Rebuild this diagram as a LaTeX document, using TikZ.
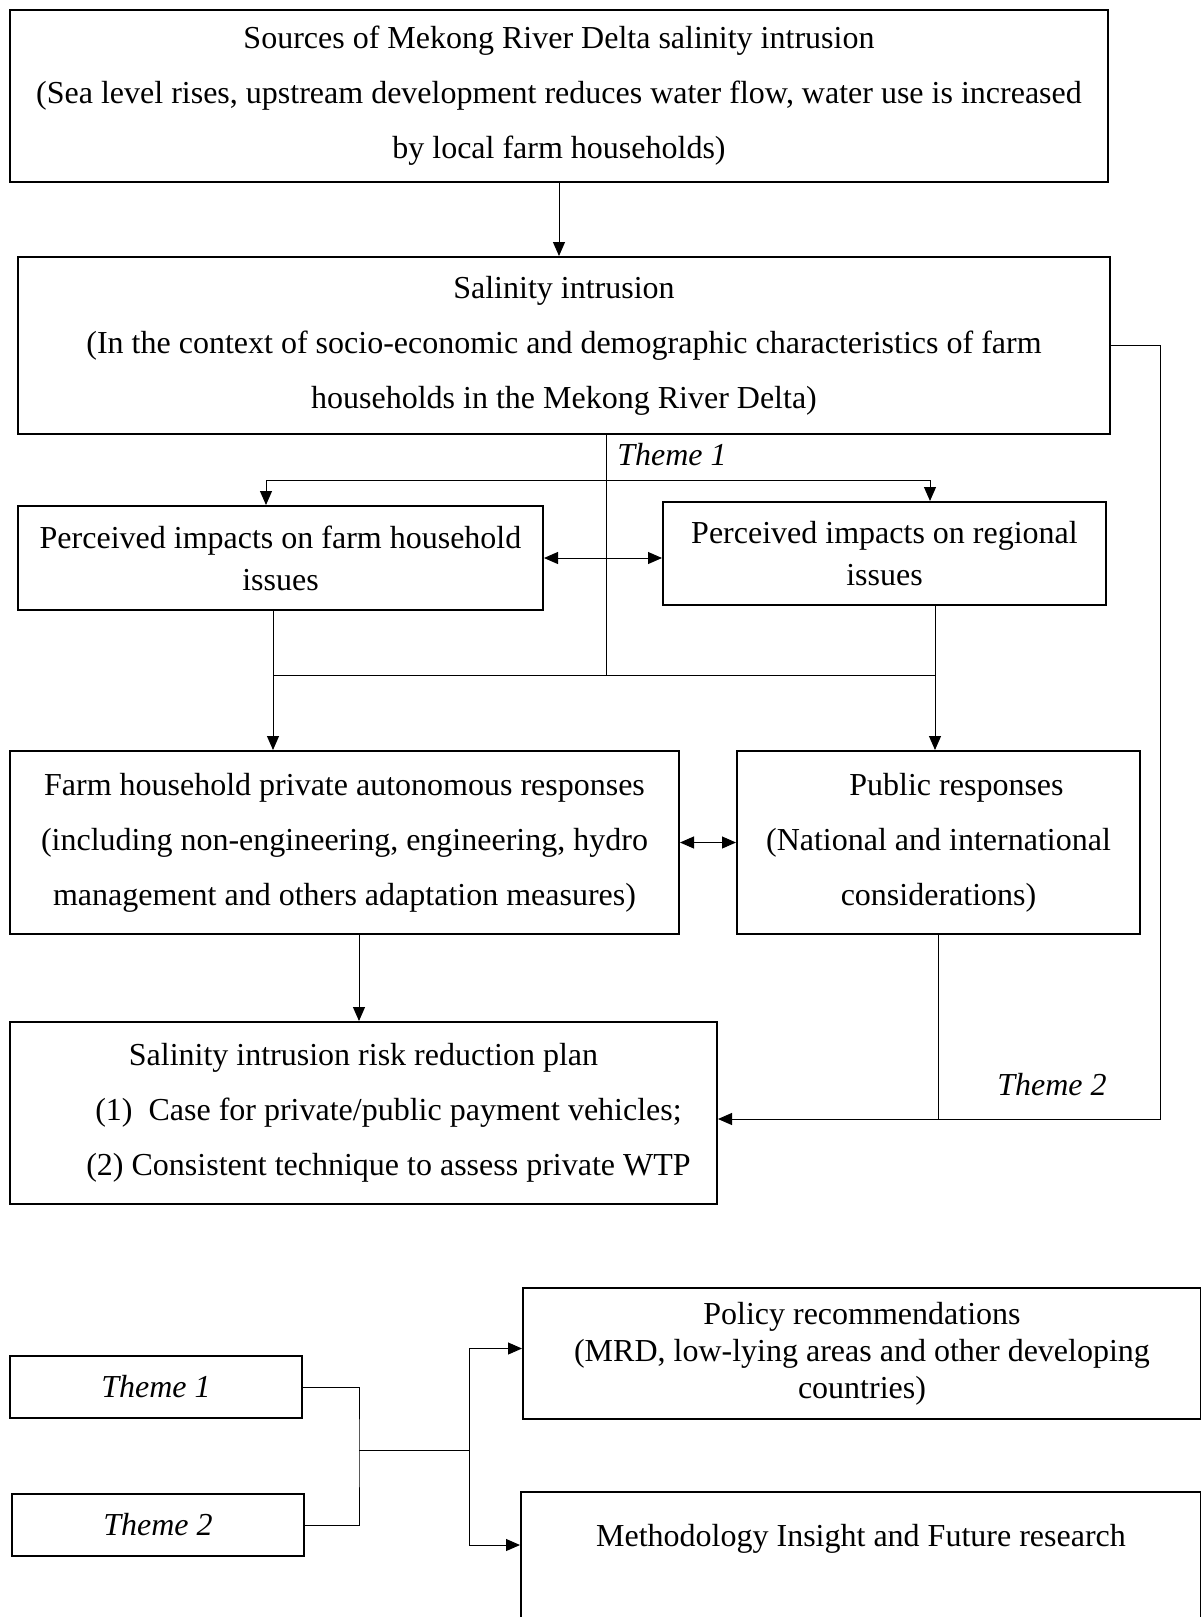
\documentclass[tikz,border=0pt]{standalone}
\usepackage{fontspec}
\setmainfont{Liberation Serif}
\usetikzlibrary{arrows.meta}
\usetikzlibrary{positioning}

\begin{document}
\begin{tikzpicture}[x=0.5pt, y=-0.5pt,
        frame/.style={rectangle, draw=black, line width=1pt, align=center, inner sep=0pt, font=\fontsize{16}{27.5}\selectfont},
        tight/.style={frame, font=\fontsize{16}{21}\selectfont},
        single/.style={frame, font=\fontsize{16}{18.5}\selectfont},
        themebox/.style={frame, font=\fontsize{16}{18}\selectfont\itshape},
        link/.style={draw=black, line width=0.5pt},
        arr/.style={link, -{Triangle[length=7pt, width=6pt]}},
        dbl/.style={link, {Triangle[length=7pt, width=6pt]}-{Triangle[length=7pt, width=6pt]}},
        tag/.style={font=\fontsize{16}{18}\selectfont\itshape}
      ]
        \useasboundingbox (0,0) rectangle (1200,1617);

        % upper chain
        \node[frame, minimum width=549pt, minimum height=86pt]    (src)    at (559,96)    {Sources of Mekong River Delta salinity intrusion\\(Sea level rises, upstream development reduces water flow, water use is increased\\by local farm households)};
        \node[frame, minimum width=546pt, minimum height=88.5pt]  (sal)    at (564,345.5) {Salinity intrusion\\(In the context of socio-economic and demographic characteristics of farm\\households in the Mekong River Delta)};
        \node[tight, minimum width=262.5pt, minimum height=52pt]  (imphh)  at (280.5,558) {Perceived impacts on farm household\\issues};
        \node[tight, minimum width=221.5pt, minimum height=51.5pt] (impreg) at (884.5,553.5) {Perceived impacts on regional\\issues};
        \node[frame, minimum width=334.5pt, minimum height=91.5pt] (farm)   at (344.5,842.5) {Farm household private autonomous responses\\(including non-engineering, engineering, hydro\\management and others adaptation measures)};
        \node[frame, minimum width=201.5pt, minimum height=91.5pt] (pub)    at (938.5,842.5) {\hspace*{18pt}Public responses\\(National and international\\considerations)};
        \node[frame, minimum width=353.5pt, minimum height=91pt]   (plan)   at (363.5,1113) {Salinity intrusion risk reduction plan\\\hspace*{25pt}(1)\ \ Case for private/public payment vehicles;\\\hspace*{25pt}(2) Consistent technique to assess private WTP};

        \node[tag] (t1) at (672,455)  {Theme 1};
        \node[tag] (t2) at (1052,1085) {Theme 2};

        \coordinate (fk)   at (606,480);
        \coordinate (bar)  at (606,675);
        \coordinate (loop) at (1160,340);
        \coordinate (t2in) at ([yshift=-3pt]plan.east);

        \draw[arr] (src) -- (src.south |- sal.north);
        \draw[link] (sal.south -| fk) -- (bar);
        \draw[arr] (fk) -| ([xshift=-7.25pt]imphh.north);
        \draw[arr] (fk) -| ([xshift=22.75pt]impreg.north);
        \draw[dbl] (imphh.east) -- (imphh.east -| impreg.west);

        \draw[arr] ([xshift=-3.75pt]imphh.south) -- ([xshift=-3.75pt]imphh.south |- farm.north);
        \draw[arr] ([xshift=25.25pt]impreg.south) -- ([xshift=25.25pt]impreg.south |- pub.north);
        \draw[link] ([xshift=-3.75pt]imphh.south |- bar) -- ([xshift=25.25pt]impreg.south |- bar);
        \draw[dbl] (farm.east) -- (farm.east -| pub.west);

        \draw[arr] ([xshift=7.25pt]farm.south) -- ([xshift=7.25pt]farm.south |- plan.north);
        \draw[arr] (sal.east) -- (sal.east -| loop) |- (t2in);
        \draw[link] (pub.south) -- (pub.south |- t2in);

        % themes and outcomes
        \node[themebox, minimum width=146pt, minimum height=31pt] (th1) at (156,1387) {Theme 1};
        \node[themebox, minimum width=146pt, minimum height=31pt] (th2) at (158,1525) {Theme 2};
        \node[single, minimum width=339pt, minimum height=65.5pt] (policy) at (862,1353.5) {Policy recommendations\\(MRD, low-lying areas and other developing\\countries)};
        \node[frame, anchor=north, minimum width=340pt, text height=22pt, text depth=80pt, inner ysep=5pt] (method) at (861,1491) {Methodology Insight and Future research};

        \coordinate (tj) at (359,1450);
        \coordinate (mj) at (469,1450);

        \draw[link] (th1.east) -| (tj) |- (th2.east);
        \draw[link] (tj) -- (mj);
        \draw[arr] (mj) |- ([yshift=2.5pt]policy.west);
        \draw[arr] (mj) |- ([yshift=-27pt]method.north west);
      \end{tikzpicture}
\end{document}
